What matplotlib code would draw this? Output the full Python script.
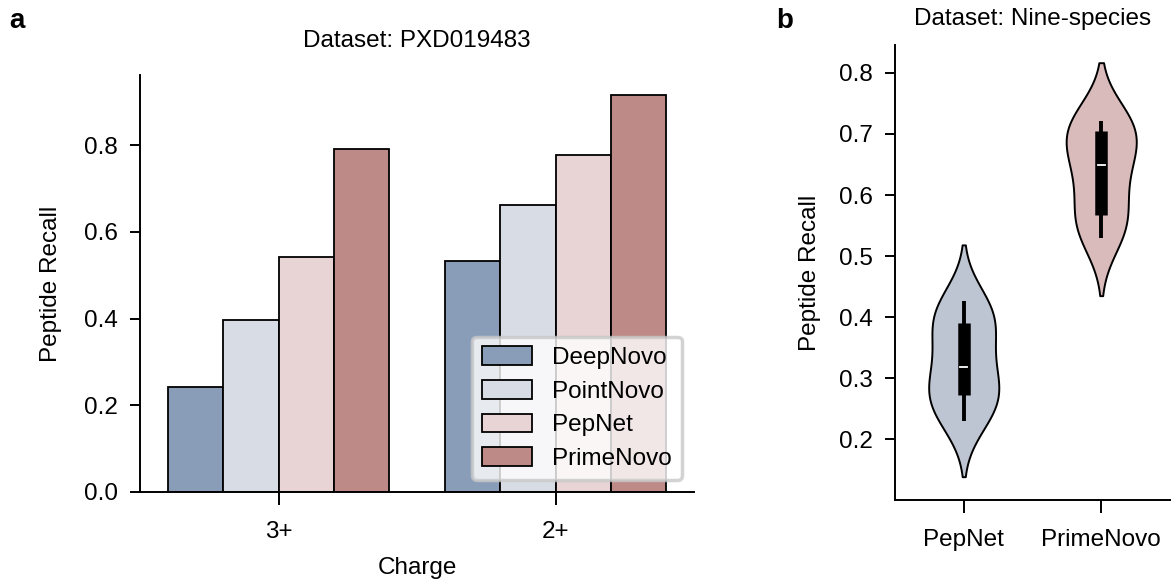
import matplotlib
matplotlib.use("Agg")
import matplotlib.pyplot as plt
import seaborn as sns
import numpy as np
import pandas as pd

plt.rcParams['font.family'] = ['Liberation Sans', 'DejaVu Sans']
plt.rcParams['font.size'] = 17.5

# panel a data
charges = ['3+', '2+']
methods = ['DeepNovo', 'PointNovo', 'PepNet', 'PrimeNovo']
recall = {
    'DeepNovo': [0.243, 0.532],
    'PointNovo': [0.398, 0.662],
    'PepNet': [0.543, 0.778],
    'PrimeNovo': [0.791, 0.916],
}
bar_colors = ['#8a9db8', '#d8dce5', '#e8d3d5', '#bd8a88']

# panel b data (nine species per method)
violin_methods = ['PepNet', 'PrimeNovo']
pepnet_recall = [0.230, 0.255, 0.272, 0.290, 0.318, 0.360, 0.390, 0.405, 0.427]
primenovo_recall = [0.530, 0.555, 0.567, 0.620, 0.650, 0.680, 0.705, 0.715, 0.722]
violin_colors = ['#bec5d2', '#d9bbbc']

fig = plt.figure(figsize=(11.73, 5.88), dpi=100)
ax1 = fig.add_axes([0.1194, 0.1633, 0.4723, 0.709])
ax2 = fig.add_axes([0.763, 0.1497, 0.2344, 0.774])

# ---- panel a ----
x = np.arange(len(charges))
w = 0.2
for i, m in enumerate(methods):
    ax1.bar(x + (i - 1.5) * w, recall[m], width=w, color=bar_colors[i],
            edgecolor='black', linewidth=1.3, label=m)
ax1.set_xticks(x)
ax1.set_xticklabels(charges)
ax1.set_xlim(-0.5, 1.5)
ax1.set_ylim(0, 0.962)
ax1.set_yticks([0.0, 0.2, 0.4, 0.6, 0.8])
ax1.set_xlabel('Charge', labelpad=10)
ax1.set_ylabel('Peptide Recall', labelpad=16)
ax1.set_title('Dataset: PXD019483', fontsize=17.5, pad=20)
leg = ax1.legend(loc='lower right', fontsize=17.5, borderaxespad=0.5,
                 handlelength=2.05, handleheight=0.8, handletextpad=0.85,
                 framealpha=0.8, fancybox=True, labelspacing=0.45)
leg.get_frame().set_edgecolor('#c8c8c8')
leg.get_frame().set_linewidth(2.5)

# ---- panel b ----
df = pd.DataFrame({
    'method': ['PepNet'] * len(pepnet_recall) + ['PrimeNovo'] * len(primenovo_recall),
    'recall': pepnet_recall + primenovo_recall,
})
sns.violinplot(data=df, x='method', y='recall', hue='method', palette=violin_colors,
               order=violin_methods, inner=None, linewidth=1.4, linecolor='black',
               saturation=1, density_norm='width', width=0.51, cut=2,
               legend=False, ax=ax2)
for i, vals in enumerate([pepnet_recall, primenovo_recall]):
    q1, med, q3 = np.percentile(vals, [25, 50, 75])
    ax2.vlines(i, min(vals), max(vals), color='black', linewidth=2.8, zorder=3)
    ax2.vlines(i, q1, q3, color='black', linewidth=9, zorder=3)
    ax2.plot([i - 0.025, i + 0.025], [med, med], color='white', linewidth=1.3, zorder=4)
ax2.set_xlim(-0.5, 1.5)
ax2.set_ylim(0.1005, 0.846)
ax2.set_yticks([0.2, 0.3, 0.4, 0.5, 0.6, 0.7, 0.8])
ax2.set_xlabel('')
ax2.set_ylabel('Peptide Recall', labelpad=13)
ax2.set_title('Dataset: Nine-species', fontsize=17.5, pad=14)

for ax in (ax1, ax2):
    ax.spines['top'].set_visible(False)
    ax.spines['right'].set_visible(False)
    for s in ('left', 'bottom'):
        ax.spines[s].set_linewidth(1.4)
    ax.tick_params(axis='y', length=7, width=1.4, pad=9)
    ax.tick_params(axis='x', length=9, width=1.4, pad=12)

fig.text(0.008, 0.965, 'a', fontsize=20, fontweight='bold', va='center')
fig.text(0.662, 0.965, 'b', fontsize=20, fontweight='bold', va='center')

fig.savefig('out.png', dpi=100)
